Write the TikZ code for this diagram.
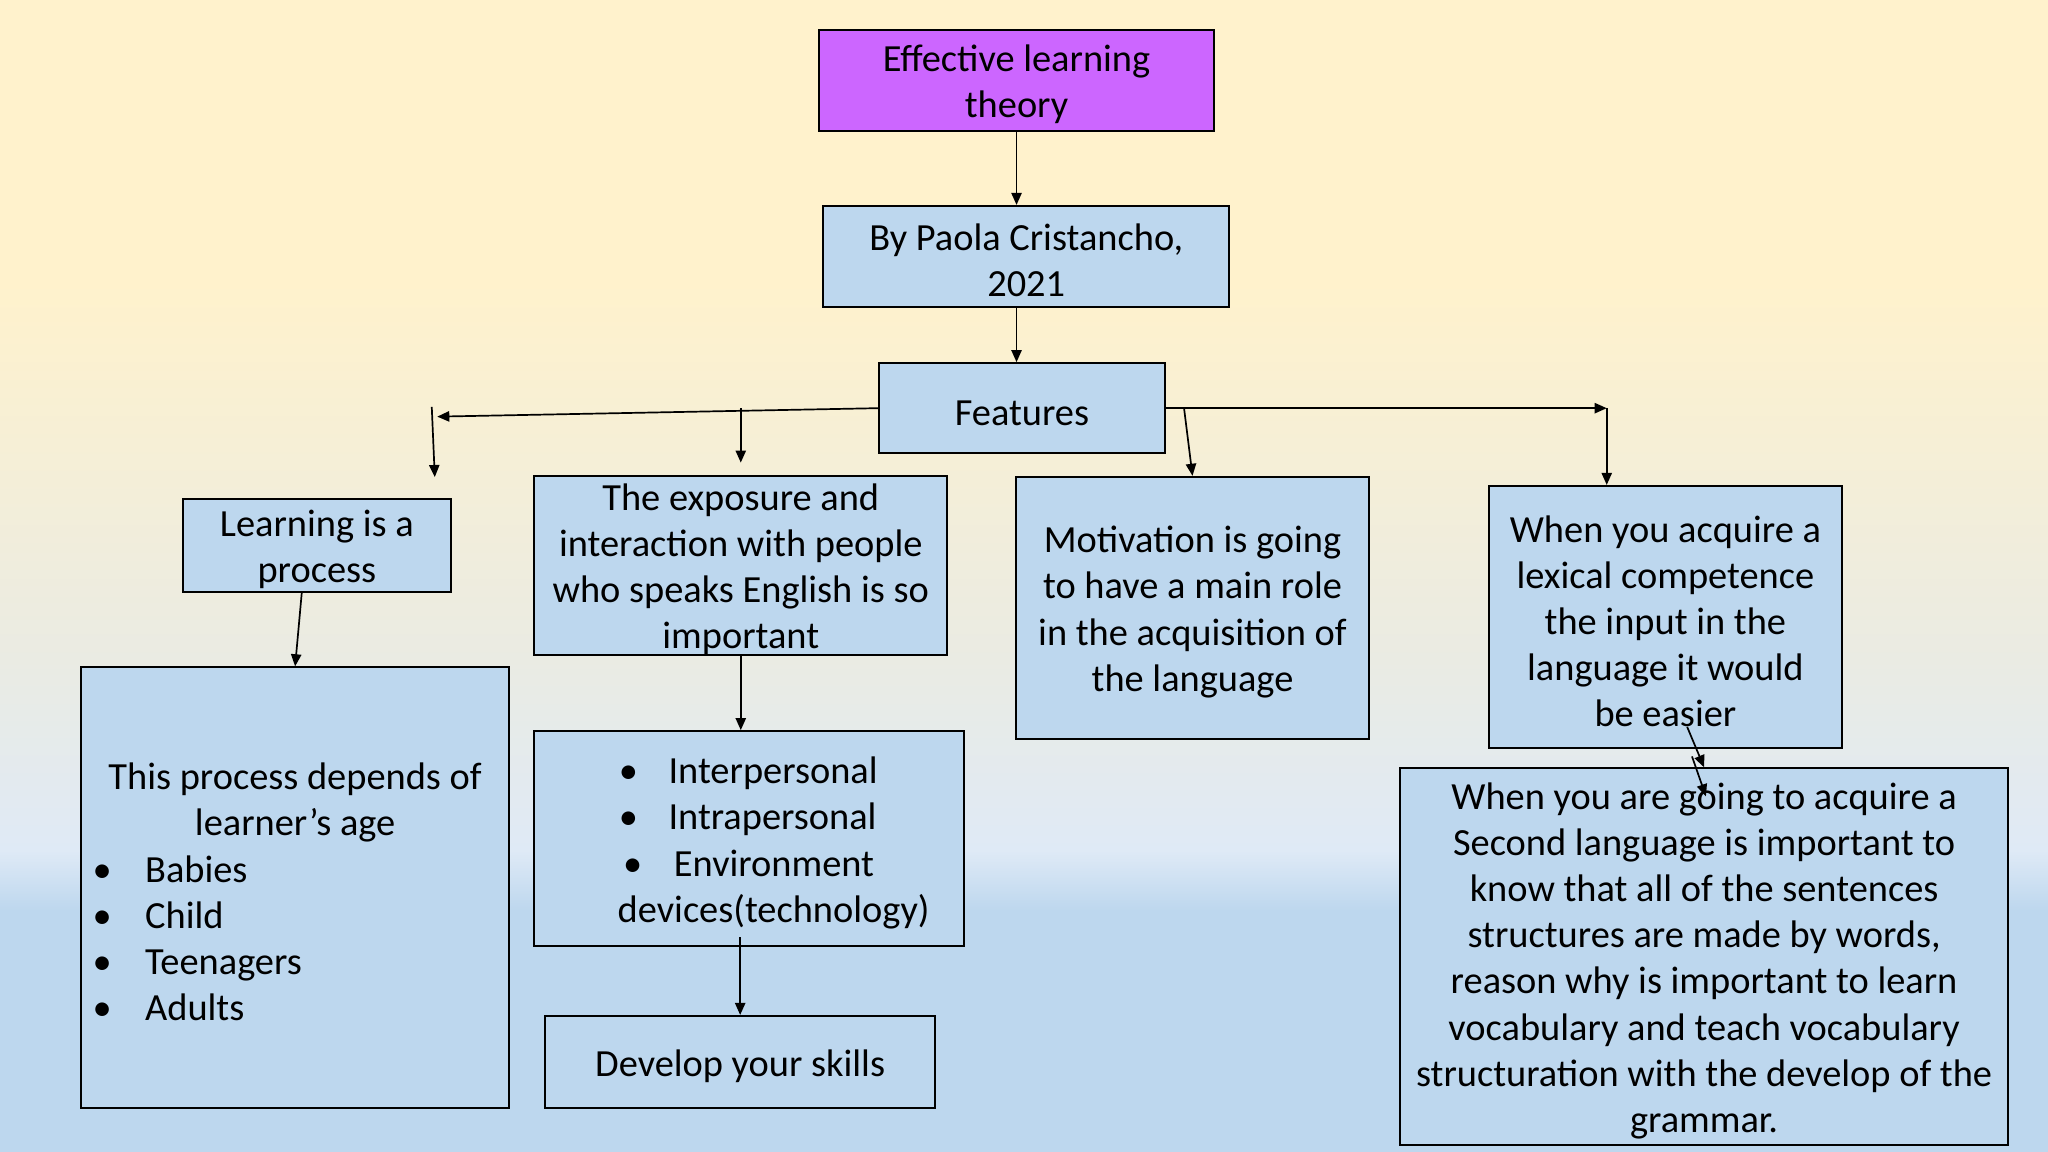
\documentclass[tikz,border=0pt]{standalone}
\usepackage{fontspec}
\setmainfont{Carlito}
\usetikzlibrary{arrows.meta, calc}
\definecolor{cream}{HTML}{FFF2CC}
\definecolor{cmid}{HTML}{EAEBE3}
\definecolor{cpale}{HTML}{DFEAF6}
\definecolor{cblue}{HTML}{BDD7EE}
\definecolor{cpurple}{HTML}{CC66FF}
\tikzset{
  every picture/.style={font=\fontsize{18bp}{21.6bp}\selectfont},
  box/.style={draw=black, fill=#1, line width=0.9pt, align=flush center, inner sep=0pt,
    execute at begin node={\rule{0pt}{0.58cm}}},
  box/.default=cblue,
  dims/.style 2 args={minimum width=#1, text width=#1, minimum height=#2},
  arrow/.style={-{Triangle[length=0.2cm, width=0.17cm]}, line width=0.8pt},
}
% one line of a list box: width, indent, bullet gap, text
\newcommand{\bitem}[4]{\makebox[#1][l]{\hspace*{#2}\makebox[#3][l]{\textbullet}#4}}

\begin{document}
\begin{tikzpicture}
  \useasboundingbox (0,0) rectangle (33.867,19.05);
  % background: cream fading into blue
  \fill[cream] (0,14.40) rectangle (33.867,19.05);
  \shade[top color=cream, bottom color=cmid] (0,8.13) rectangle (33.867,14.42);
  \shade[top color=cmid, bottom color=cpale] (0,4.98) rectangle (33.867,8.14);
  \shade[top color=cpale, bottom color=cblue] (0,3.99) rectangle (33.867,4.99);
  \fill[cblue] (0,0) rectangle (33.867,4.00);
  % top of the map
  \node[box=cpurple, dims={6.53cm}{1.67cm}] (title) at (16.81,17.72) {Effective learning\\theory};
  \node[box, dims={6.71cm}{1.67cm}] (author) at (16.97,14.81) {By Paola Cristancho,\\2021};
  \node[box, dims={4.73cm}{1.49cm}] (feat) at (16.90,12.30) {Features};
  % the four features
  \node[box, dims={4.43cm}{1.54cm}] (proc) at (5.24,10.03) {Learning is a\\process};
  \node[box, dims={6.83cm}{2.89cm}] (expo) at (12.25,9.70) {The exposure and\\interaction with people\\who speaks English is so\\important};
  \node[box, dims={5.84cm}{4.33cm}] (motiv) at (19.72,9.00) {Motivation is going\\to have a main role\\in the acquisition of\\the language};
  \node[box, dims={5.84cm}{4.33cm}] (lexic) at (27.54,8.85) {When you acquire a\\lexical competence\\the input in the\\language it would\\be easier};
  % lower boxes
  \node[box, dims={7.08cm}{7.29cm}] (ages) at (4.88,4.37) {This process depends of\\learner’s age\\
    \bitem{7.08cm}{0.19cm}{0.87cm}{Babies}\\
    \bitem{7.08cm}{0.19cm}{0.87cm}{Child}\\
    \bitem{7.08cm}{0.19cm}{0.87cm}{Teenagers}\\
    \bitem{7.08cm}{0.19cm}{0.87cm}{Adults}};
  \node[box, dims={7.11cm}{3.56cm}] (inter) at (12.39,5.18) {%
    \bitem{7.11cm}{1.40cm}{0.82cm}{Interpersonal}\\
    \bitem{7.11cm}{1.40cm}{0.82cm}{Intrapersonal}\\
    \bitem{7.11cm}{1.47cm}{0.84cm}{Environment}\\
    \makebox[7.11cm][l]{\hspace*{1.38cm}devices(technology)}};
  \node[box, dims={6.45cm}{1.52cm}] (skill) at (12.24,1.49) {Develop your skills};
  \node[box, dims={10.05cm}{6.23cm}] (second) at (28.18,3.23) {When you are going to acquire a\\Second language is important to\\know that all of the sentences\\structures are made by words,\\reason why is important to learn\\vocabulary and teach vocabulary\\structuration with the develop of the\\grammar.};
  % branch ends
  \coordinate (ltip) at (7.23,12.16);
  \coordinate (ltop) at (7.14,12.32);
  \coordinate (lend) at (7.19,11.16);
  \coordinate (rtip) at (26.57,12.30);
  % connectors
  \draw[arrow] (title.south) -- (title.south |- author.north);
  \draw[arrow] (title.south |- author.south) -- (title.south |- feat.north);
  \draw[arrow] (feat.west) -- (ltip);
  \draw[arrow] (ltop) -- (lend);
  \draw[arrow, shorten >=0.2cm] (expo.north |- feat.west) -- (expo.north);
  \draw[arrow] (feat.east) -- (rtip);
  \draw[arrow] (rtip) -- (rtip |- lexic.north);
  \draw[arrow] ([xshift=-0.14cm]motiv.north |- feat.east) -- (motiv.north);
  \draw[arrow] ([xshift=-0.25cm]proc.south) -- (ages.north);
  \draw[arrow] (expo.south) -- (expo.south |- inter.north);
  \draw[arrow] ([yshift=0.17cm]skill.north |- inter.south) -- (skill.north);
  \draw[arrow] ([shift={(0.36,0.36)}]lexic.south) -- (second.north);
  \draw[arrow] ([shift={(-0.20,0.18)}]second.north) -- ([shift={(0.03,-0.48)}]second.north);
\end{tikzpicture}
\end{document}
